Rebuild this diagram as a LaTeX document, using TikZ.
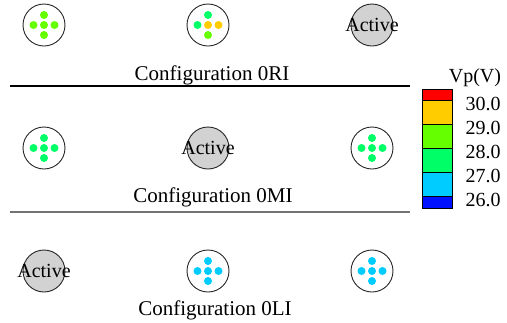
\documentclass[tikz,border=0pt]{standalone}
\usepackage{fontspec}
\setmainfont{Liberation Serif}
\usepackage{xcolor}
\usepackage{tikz}
\usetikzlibrary{positioning}

\definecolor{vpred}{HTML}{FF0000}
\definecolor{vporange}{HTML}{FFCC00}
\definecolor{vplime}{HTML}{66FF00}
\definecolor{vpgreen}{HTML}{00FF66}
\definecolor{vpcyan}{HTML}{00CCFF}
\definecolor{vpblue}{HTML}{0011FF}

% five pins of a pad: top, left, centre, right, bottom
\newcommand{\pins}[6]{%
  \fill[#2] (#1) ++(0,-10) circle (4pt);
  \fill[#3] (#1) ++(-10.5,0) circle (4pt);
  \fill[#4] (#1) circle (4pt);
  \fill[#5] (#1) ++(10.5,0) circle (4pt);
  \fill[#6] (#1) ++(0,10) circle (4pt);
}

\begin{document}
\begin{tikzpicture}[x=1pt, y=-1pt,
        font=\fontsize{20}{24}\selectfont,
        pad/.style={circle, draw=black!85, line width=0.9pt, minimum size=42pt, inner sep=0pt},
        active/.style={pad, fill=gray!35, label={center:Active}},
        config/.style={anchor=base, font=\fontsize{21}{24}\selectfont},
        tick/.style={anchor=base}
    ]
        \useasboundingbox (0,0) rectangle (507,322);

        % Pads, configuration 0RI
        \node[pad] (r1) at (44,25) {};
        \node[pad] (r2) at (208,25) {};
        \node[active] (r3) at (372,25) {};
        \pins{r1}{vplime}{vplime}{vplime}{vplime}{vplime}
        \pins{r2}{vpgreen}{vpgreen}{vporange}{vporange}{vplime}
        \node[config] (cfgR) at (212,80) {Configuration 0RI};
        \draw[line width=1.5pt] (10,86) -- (410,86);

        % Pads, configuration 0MI
        \node[pad] (m1) at (44,148) {};
        \node[active] (m2) at (208,148) {};
        \node[pad] (m3) at (372,148) {};
        \pins{m1}{vpgreen}{vpgreen}{vpgreen}{vpgreen}{vpgreen}
        \pins{m3}{vpgreen}{vpgreen}{vpgreen}{vpgreen}{vpgreen}
        \node[config] (cfgM) at (213,202) {Configuration 0MI};
        \draw[line width=2pt, black!55] (10,212) -- (410,212);

        % Pads, configuration 0LI
        \node[active] (l1) at (44,271) {};
        \node[pad] (l2) at (208,271) {};
        \node[pad] (l3) at (372,271) {};
        \pins{l2}{vpcyan}{vpcyan}{vpcyan}{vpcyan}{vpcyan}
        \pins{l3}{vpcyan}{vpcyan}{vpcyan}{vpcyan}{vpcyan}
        \node[config] (cfgL) at (215,315) {Configuration 0LI};

        % Colour scale
        \node[tick] (vp) at (475,82) {Vp(V)};
        \foreach \c/\a/\b in {vpred/89/100, vporange/100/124, vplime/124/148,
                              vpgreen/148/172, vpcyan/172/196, vpblue/196/208}
            \draw[fill=\c, line width=0.6pt] (422,\a) rectangle (452,\b);
        \foreach \v [count=\i] in {30.0,29.0,28.0,27.0,26.0}
            \node[tick] (t\i) at (483,86+24*\i) {\v};
    \end{tikzpicture}
\end{document}
